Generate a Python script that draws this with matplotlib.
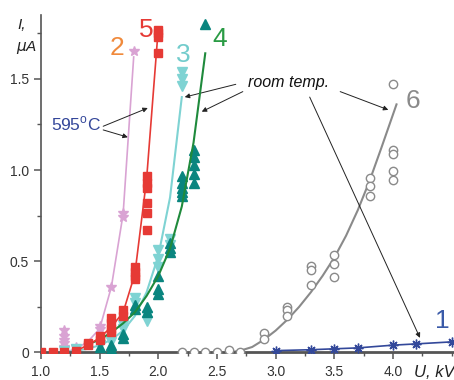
import matplotlib
matplotlib.use("Agg")
import matplotlib.pyplot as plt
from matplotlib.ticker import MultipleLocator, FixedFormatter, FixedLocator

plt.rcParams['font.family'] = ['Liberation Sans', 'DejaVu Sans']

# curve 1 (blue, asterisks)
u1 = [3.0, 3.3, 3.5, 3.7, 4.0, 4.2, 4.5]
i1 = [0.01, 0.015, 0.02, 0.025, 0.04, 0.047, 0.058]

# curve 2 (lilac stars, 595 C)
u2 = [1.2, 1.2, 1.2, 1.2, 1.2, 1.3, 1.5, 1.5, 1.6, 1.7, 1.7, 1.79]
i2 = [0.125, 0.09, 0.07, 0.05, 0.03, 0.03, 0.145, 0.13, 0.36, 0.765, 0.74, 1.65]
u2_line = [1.2, 1.3, 1.4, 1.5, 1.6, 1.7, 1.79]
i2_line = [0.0, 0.02, 0.06, 0.13, 0.36, 0.76, 1.62]

# curve 5 (red squares, 595 C)
u5 = [1.0, 1.1, 1.2, 1.3, 1.4, 1.4, 1.5, 1.5, 1.6, 1.6, 1.6, 1.6, 1.7, 1.7,
      1.8, 1.8, 1.8, 1.8, 1.9, 1.9, 1.9, 1.9, 1.9, 1.9, 2.0, 2.0, 2.0, 2.0]
i5 = [0, 0, 0, 0.01, 0.05, 0.04, 0.09, 0.07, 0.19, 0.16, 0.13, 0.11, 0.23, 0.2,
      0.47, 0.44, 0.42, 0.40, 0.965, 0.93, 0.9, 0.82, 0.765, 0.67, 1.77, 1.75, 1.73, 1.64]
u5_line = [1.3, 1.4, 1.5, 1.6, 1.7, 1.8, 1.9, 2.0]
i5_line = [0.01, 0.04, 0.08, 0.14, 0.22, 0.43, 0.95, 1.78]

# curve 3 (light teal, down triangles)
u3 = [1.2, 1.3, 1.5, 1.6, 1.7, 1.7, 1.8, 1.8, 1.9, 1.9, 2.0, 2.0, 2.0, 2.1, 2.1, 2.2, 2.2, 2.2]
i3 = [0.01, 0.02, 0.04, 0.06, 0.15, 0.13, 0.30, 0.27, 0.2, 0.17, 0.56, 0.51, 0.47, 0.62, 0.59, 1.54, 1.5, 1.46]
u3_line = [1.2, 1.4, 1.5, 1.6, 1.7, 1.8, 1.9, 2.0, 2.1, 2.2]
i3_line = [0.0, 0.02, 0.04, 0.07, 0.12, 0.2, 0.33, 0.53, 0.85, 1.4]

# curve 4 (dark teal up triangles, green fit)
u4 = [1.5, 1.6, 1.6, 1.7, 1.7, 1.8, 1.8, 1.9, 1.9, 2.0, 2.0, 2.0, 2.1, 2.1, 2.1,
      2.2, 2.2, 2.2, 2.2, 2.2, 2.3, 2.3, 2.3, 2.3, 2.3, 2.4]
i4 = [0.03, 0.04, 0.02, 0.1, 0.08, 0.26, 0.24, 0.25, 0.22, 0.42, 0.35, 0.32, 0.6, 0.57, 0.55,
      0.97, 0.93, 0.9, 0.88, 0.855, 1.11, 1.07, 1.03, 0.98, 0.93, 1.8]
u4_line = [1.4, 1.5, 1.6, 1.7, 1.8, 1.9, 2.0, 2.1, 2.2, 2.3, 2.4]
i4_line = [0.045, 0.07, 0.11, 0.16, 0.22, 0.31, 0.42, 0.57, 0.8, 1.15, 1.64]

# curve 6 (grey open circles)
u6 = [2.2, 2.3, 2.4, 2.5, 2.6, 2.7, 2.9, 2.9, 3.1, 3.1, 3.1, 3.3, 3.3, 3.3,
      3.5, 3.5, 3.5, 3.8, 3.8, 3.8, 4.0, 4.0, 4.0, 4.0, 4.0]
i6 = [0, 0, 0, 0.005, 0.012, 0, 0.104, 0.075, 0.25, 0.23, 0.2, 0.475, 0.45, 0.37,
      0.535, 0.486, 0.414, 0.955, 0.91, 0.86, 1.47, 1.11, 1.09, 0.995, 0.945]
u6_line = [2.6, 2.7, 2.8, 2.9, 3.0, 3.1, 3.2, 3.3, 3.4, 3.5, 3.6, 3.7, 3.8, 3.9, 4.03]
i6_line = [0.0, 0.01, 0.03, 0.07, 0.12, 0.18, 0.25, 0.33, 0.42, 0.52, 0.64, 0.78, 0.94, 1.12, 1.36]

xticks = [1.0, 1.5, 2.0, 2.5, 3.0, 3.5, 4.0]
yticks = [0, 0.5, 1.0, 1.5]
ytick_labels = ['0', '0.5', '1.0', '1.5']

c_lilac = '#d9a3d3'
c_red = '#e63a35'
c_cyan = '#7fd3d3'
c_teal = '#0a857f'
c_green = '#1f8a3c'
c_grey = '#8a8a8a'
c_blue = '#33489a'

fig = plt.figure(figsize=(4.54, 3.80), dpi=100)
ax = fig.add_axes([41 / 454, 27 / 380, 1 - 41 / 454, 338 / 380])

ax.plot(u2_line, i2_line, color=c_lilac, lw=1.2, zorder=2)
ax.plot(u2, i2, ls='none', marker='*', ms=7.5, color=c_lilac, zorder=3)

ax.plot(u3_line, i3_line, color=c_cyan, lw=1.5, zorder=2)
ax.plot(u3, i3, ls='none', marker='v', ms=6.5, color=c_cyan, zorder=3)

ax.plot(u4, i4, ls='none', marker='^', ms=6.5, color=c_teal, zorder=3)
ax.plot(u4_line, i4_line, color=c_green, lw=1.5, zorder=4)

ax.plot(u5_line, i5_line, color=c_red, lw=1.2, zorder=4)
ax.plot(u5, i5, ls='none', marker='s', ms=5.5, color=c_red, zorder=5)

ax.plot(u6_line, i6_line, color=c_grey, lw=1.5, zorder=2)
ax.plot(u6, i6, ls='none', marker='o', ms=6, mfc='white', mec=c_grey, mew=1.0, zorder=3)

ax.plot(u1, i1, color=c_blue, lw=1.2, marker=(8, 2, 0), ms=7, mew=1.0, zorder=3)

ax.set_xlim(1.0, 4.52)
ax.set_ylim(-0.003, 1.85)
for s in ['top', 'right']:
    ax.spines[s].set_visible(False)
ax.spines['left'].set_color('#555555')
ax.spines['left'].set_linewidth(1.2)
ax.spines['bottom'].set_color('#555555')
ax.spines['bottom'].set_linewidth(2.0)
ax.spines['bottom'].set_position(('data', 0))

ax.xaxis.set_major_locator(FixedLocator(xticks))
ax.xaxis.set_minor_locator(MultipleLocator(0.25))
ax.yaxis.set_major_locator(FixedLocator(yticks))
ax.yaxis.set_major_formatter(FixedFormatter(ytick_labels))
ax.yaxis.set_minor_locator(MultipleLocator(0.25))
ax.tick_params(which='both', direction='out', color='#555555', labelsize=10, labelcolor='#333333')
ax.tick_params(which='major', length=5, width=1.1)
ax.tick_params(which='minor', length=3, width=1.0)
ax.tick_params(axis='x', pad=4)

# axis titles
fig.text(22 / 454, 1 - 25 / 380, 'I,', style='italic', fontsize=11, ha='center', va='center', color='#222222')
fig.text(27 / 454, 1 - 47 / 380, r'$\mu$A', style='italic', fontsize=11, ha='center', va='center', color='#222222')
ax.text(4.18, -0.11, 'U, kV', style='italic', fontsize=12, ha='left', va='center', color='#222222', clip_on=False)

# curve numbers
ax.text(1.65, 1.67, '2', color='#f08a3c', fontsize=19, ha='center', va='center')
ax.text(1.9, 1.77, '5', color=c_red, fontsize=19, ha='center', va='center')
ax.text(2.21, 1.63, '3', color='#72cccc', fontsize=19, ha='center', va='center')
ax.text(2.52, 1.72, '4', color='#2a9b44', fontsize=19, ha='center', va='center')
ax.text(4.17, 1.38, '6', color=c_grey, fontsize=19, ha='center', va='center')
ax.text(4.42, 0.17, '1', color='#3a5aa8', fontsize=19, ha='center', va='center')

# annotations
ax.text(1.3, 1.25, '595$^\\mathregular{o}$C', color='#34479a', fontsize=12.5, ha='center', va='center')
ap = dict(arrowstyle='-|>', color='#222222', lw=0.7, mutation_scale=7, shrinkA=0, shrinkB=0)
ax.annotate('', xy=(1.91, 1.34), xytext=(1.53, 1.24), arrowprops=ap)
ax.annotate('', xy=(1.74, 1.18), xytext=(1.53, 1.22), arrowprops=ap)

ax.text(3.11, 1.48, 'room temp.', style='italic', fontsize=11.5, ha='center', va='center', color='#111111')
ax.annotate('', xy=(2.225, 1.40), xytext=(2.66, 1.47), arrowprops=ap)
ax.annotate('', xy=(2.37, 1.32), xytext=(2.72, 1.43), arrowprops=ap)
ax.annotate('', xy=(3.96, 1.33), xytext=(3.55, 1.43), arrowprops=ap)
ax.annotate('', xy=(4.23, 0.08), xytext=(3.29, 1.40), arrowprops=ap)

fig.savefig('out.png', dpi=100)
